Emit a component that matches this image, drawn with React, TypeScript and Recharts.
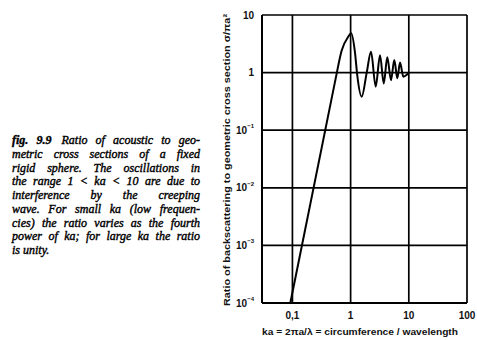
import React from "react";
import {
  LineChart,
  Line,
  XAxis,
  YAxis,
  CartesianGrid,
} from "recharts";

// ---- data ----
// straight fourth-power-like rise (log-log straight line)
const riseKa = [0.092, 0.58];
const riseRatio = [1e-4, 1.0];
// peak and creeping-wave oscillations
const oscKa = [0.58, 0.7, 0.91, 1.02, 1.19, 1.3, 1.55, 1.89, 2.24, 2.7, 3.2, 3.71, 4.27, 4.94, 5.63, 6.35, 7.06, 8.05, 10.0];
const oscRatio = [1.0, 2.4, 4.2, 4.8, 2.2, 0.9, 0.38, 1.0, 2.3, 0.57, 2.0, 0.65, 1.84, 0.74, 1.66, 0.8, 1.49, 0.85, 1.0];

const xTicks = [0.1, 1, 10, 100];
const xTickLabels = ["0,1", "1", "10", "100"];
const yTicks = [1e-4, 1e-3, 1e-2, 1e-1, 1, 10];
const yTickBase = ["10", "10", "10", "10", "1", "10"];
const yTickExp = ["−4", "−3", "−2", "−1", "", ""];

const xTitle = "ka = 2πa/λ = circumference / wavelength";
const yTitle = "Ratio of backscattering to geometric cross section σ/πa²";

const captionLines = [
  "Ratio of acoustic to geo-",
  "metric cross sections of a fixed",
  "rigid sphere. The oscillations in",
  "the range 1 < ka < 10 are due to",
  "interference by the creeping",
  "wave. For small ka (low frequen-",
  "cies) the ratio varies as the fourth",
  "power of ka; for large ka the ratio",
  "is unity.",
];
const figLabel = "fig. 9.9";

// merge both series on a shared ka key
const allKa = Array.from(new Set([...riseKa, ...oscKa])).sort((a, b) => a - b);
const data = allKa.map((ka) => {
  const ri = riseKa.indexOf(ka);
  const oi = oscKa.indexOf(ka);
  return {
    ka,
    rise: ri >= 0 ? riseRatio[ri] : undefined,
    osc: oi >= 0 ? oscRatio[oi] : undefined,
  };
});

const tickFont = "'Liberation Sans', Arial, sans-serif";

const XTick = (props: any) => {
  const { x, y, payload } = props;
  const idx = xTicks.indexOf(payload.value);
  return (
    <text x={x} y={y} textAnchor="middle" dominantBaseline="central" fontFamily={tickFont} fontSize={10} fontWeight="bold" fill="#111">
      {idx >= 0 ? xTickLabels[idx] : ""}
    </text>
  );
};

const YTick = (props: any) => {
  const { x, y, payload } = props;
  const idx = yTicks.indexOf(payload.value);
  const base = idx >= 0 ? yTickBase[idx] : "";
  const exp = idx >= 0 ? yTickExp[idx] : "";
  return (
    <text x={x} y={y} textAnchor="end" dominantBaseline="central" fontFamily={tickFont} fontSize={10} fontWeight="bold" fill="#111">
      {base}
      {exp ? (
        <tspan dy={-4} fontSize={6}>
          {exp}
        </tspan>
      ) : null}
    </text>
  );
};

const XTitleLabel = (props: any) => {
  const vb = props.viewBox || { x: 262, y: 303, width: 205, height: 30 };
  return (
    <text
      x={vb.x + 98}
      y={vb.y + 29}
      textAnchor="middle"
      dominantBaseline="central"
      fontFamily={tickFont}
      fontSize={9}
      fontWeight="bold"
      fill="#111"
      textLength={196}
      lengthAdjust="spacingAndGlyphs"
    >
      {xTitle}
    </text>
  );
};

const YTitleLabel = (props: any) => {
  const vb = props.viewBox || { x: 232, y: 15, width: 30, height: 288 };
  const cx = vb.x - 5;
  const cy = vb.y + 145;
  return (
    <text
      x={cx}
      y={cy}
      transform={`rotate(-90 ${cx} ${cy})`}
      textAnchor="middle"
      dominantBaseline="central"
      fontFamily={tickFont}
      fontSize={9}
      fontWeight="bold"
      fill="#111"
      textLength={292}
      lengthAdjust="spacingAndGlyphs"
    >
      {yTitle}
    </text>
  );
};

export default function App() {
  return (
    <div style={{ position: "fixed", left: 0, top: 0, width: 477, height: 340, background: "#fff", overflow: "hidden" }}>
      <div
        style={{
          position: "absolute",
          left: 12,
          top: 134,
          width: 188,
          fontFamily: "'Liberation Serif', 'Times New Roman', serif",
          fontStyle: "italic",
          fontSize: 12,
          lineHeight: "13.75px",
          color: "#000",
          WebkitTextStroke: "0.4px #000",
        }}
      >
        {captionLines.map((line, i) => (
          <div
            key={i}
            style={{
              whiteSpace: "nowrap",
              textAlign: i === captionLines.length - 1 ? "left" : "justify",
              textAlignLast: i === captionLines.length - 1 ? "left" : "justify",
            }}
          >
            {i === 0 ? (
              <span style={{ fontWeight: "bold", marginRight: 10 }}>{figLabel}</span>
            ) : null}
            {line}
          </div>
        ))}
      </div>
      <div style={{ position: "absolute", left: 0, top: 0 }}>
        <LineChart width={477} height={340} data={data} margin={{ top: 15, right: 10, bottom: 7, left: 232 }}>
          <CartesianGrid stroke="#000" strokeWidth={1.7} horizontalValues={yTicks} verticalValues={xTicks} fill="none" />
          <XAxis
            dataKey="ka"
            type="number"
            scale="log"
            domain={[0.03, 100]}
            allowDataOverflow
            ticks={xTicks}
            interval={0}
            height={30}
            tickLine={false}
            tickSize={0}
            tickMargin={12}
            axisLine={{ stroke: "#000", strokeWidth: 2 }}
            tick={<XTick />}
            label={<XTitleLabel />}
          />
          <YAxis
            type="number"
            scale="log"
            domain={[1e-4, 10]}
            allowDataOverflow
            ticks={yTicks}
            interval={0}
            width={30}
            tickLine={false}
            tickSize={0}
            tickMargin={8}
            axisLine={{ stroke: "#000", strokeWidth: 2 }}
            tick={<YTick />}
            label={<YTitleLabel />}
          />
          <Line
            type="linear"
            dataKey="rise"
            stroke="#000"
            strokeWidth={2}
            dot={false}
            connectNulls={false}
            isAnimationActive={false}
          />
          <Line
            type="monotone"
            dataKey="osc"
            stroke="#000"
            strokeWidth={2}
            dot={false}
            connectNulls={false}
            isAnimationActive={false}
          />
        </LineChart>
      </div>
    </div>
  );
}
